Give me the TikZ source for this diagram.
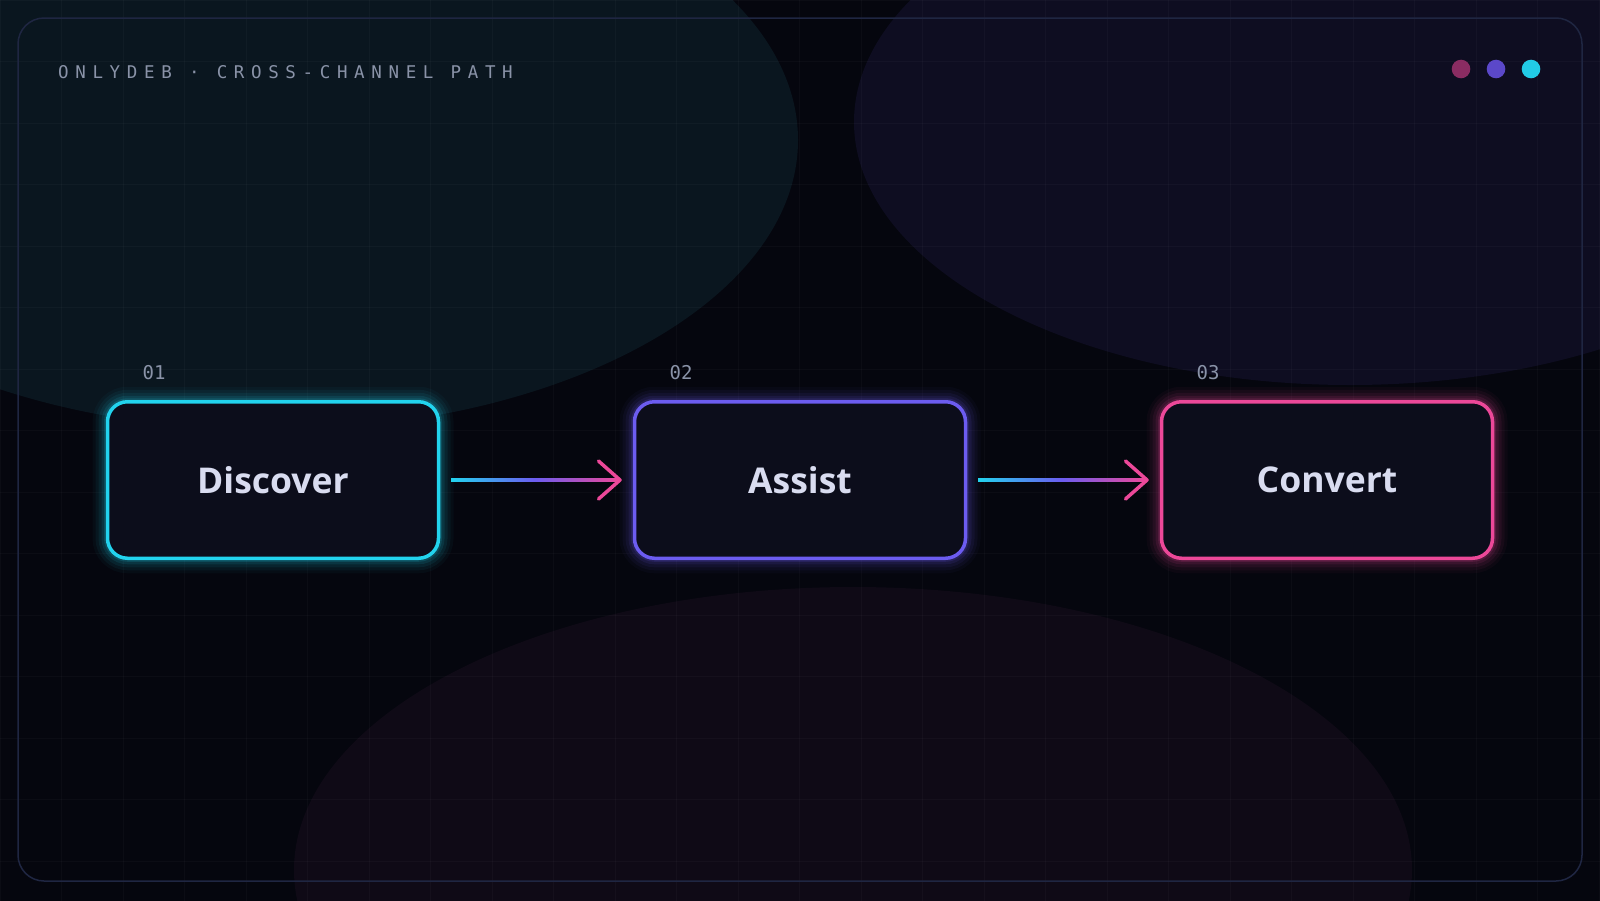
\documentclass[tikz,border=0pt]{standalone}
\usepackage{fontspec}
\setmainfont{Open Sans}
\newfontfamily\monofont{DejaVu Sans Mono}
\newfontfamily\titlefont[LetterSpace=38]{DejaVu Sans Mono}
\usetikzlibrary{calc}
\definecolor{bgc}{HTML}{05060E}
\definecolor{blobteal}{HTML}{0A161F}
\definecolor{blobpurp}{HTML}{0E0D21}
\definecolor{blobred}{HTML}{0F0A16}
\definecolor{cyanc}{HTML}{22D3EE}
\definecolor{purpc}{HTML}{6C5CF0}
\definecolor{pinkc}{HTML}{EC4899}
\definecolor{boxfill}{HTML}{0C0D1B}
\definecolor{labelc}{HTML}{D9DCF0}
\definecolor{mutedc}{HTML}{8A93A8}
\definecolor{framec}{HTML}{1F2642}
\definecolor{dotpink}{HTML}{8A2C62}
\definecolor{dotpurp}{HTML}{5B48C9}
\definecolor{dotcyan}{HTML}{22CBE6}
\pgfdeclarelayer{back}
\pgfdeclarelayer{glow}
\pgfsetlayers{back,glow,main}
\tikzset{
  stepbox/.style={draw=#1, line width=3.5pt, fill=boxfill, rounded corners=20pt,
    minimum width=331pt, minimum height=156.5pt, outer sep=0pt, inner sep=0pt,
    text=labelc, font=\fontsize{35.5}{42}\selectfont\bfseries},
  numlabel/.style={anchor=base west, inner sep=0pt, text=mutedc, font=\monofont\fontsize{19}{22}\selectfont},
  tipline/.style={pinkc, line width=3.5pt, line cap=round, line join=round},
  gridline/.style={white, opacity=0.028, line width=1pt},
}
\newcommand{\glowaround}[2]{%
  \foreach \w/\o in {30/0.035, 24/0.05, 18/0.07, 12/0.1, 7/0.15}{
    \draw[#2, line width=\w pt, opacity=\o, rounded corners=20pt] (#1.south west) rectangle (#1.north east);
  }}
\newcommand{\flowarrow}[2]{%
  \shade[left color=cyanc, right color=pinkc, middle color=purpc]
    ($(#1.east)+(12.5,-1.75)$) rectangle ($(#2.west)+(-16,1.75)$);
  \draw[tipline] ($(#2.west)+(-36,-19)$) -- ($(#2.west)+(-14.5,0)$) -- ($(#2.west)+(-36,19)$);}
\begin{document}
\begin{tikzpicture}[x=1pt,y=-1pt]
\useasboundingbox (0,0) rectangle (1600,900);
\begin{pgfonlayer}{back}
  \fill[bgc] (-10,-10) rectangle (1610,910);
  \begin{scope}
    \clip (-10,-10) rectangle (1610,910);
    \fill[blobteal] (270,140) ellipse [x radius=528, y radius=290];
    \fill[blobpurp] (1350,122) ellipse [x radius=496, y radius=263];
    \fill[blobred] (853,870) ellipse [x radius=559, y radius=283];
    \foreach \i in {0,...,26}{
      \draw[gridline] (\i*61.5,-10) -- (\i*61.5,910);
    }
    \foreach \j in {0,...,14}{
      \draw[gridline] (-10,\j*61.5) -- (1610,\j*61.5);
    }
  \end{scope}
  \draw[framec, line width=1.5pt, rounded corners=26pt] (18,18) rectangle (1582,881);
\end{pgfonlayer}

\node[anchor=base west, inner sep=0pt, text=mutedc, font=\titlefont\fontsize{17.5}{20}\selectfont] (title) at (58,78) {ONLYDEB · CROSS-CHANNEL PATH};

\fill[dotpink] (1461,69) circle (9.3);
\fill[dotpurp] (1496,69) circle (9.3);
\fill[dotcyan] (1531,69) circle (9.3);

\node[stepbox=cyanc] (b1) at (273,480) {Discover};
\node[stepbox=purpc] (b2) at (800,480) {Assist};
\node[stepbox=pinkc] (b3) at (1327,480) {Convert};

\node[numlabel] (n1) at ($(b1.north west)+(35,-22.5)$) {01};
\node[numlabel] (n2) at ($(b2.north west)+(35,-22.5)$) {02};
\node[numlabel] (n3) at ($(b3.north west)+(35,-22.5)$) {03};

\begin{pgfonlayer}{glow}
  \glowaround{b1}{cyanc}
  \glowaround{b2}{purpc}
  \glowaround{b3}{pinkc}
\end{pgfonlayer}

\flowarrow{b1}{b2}
\flowarrow{b2}{b3}
\end{tikzpicture}
\end{document}
